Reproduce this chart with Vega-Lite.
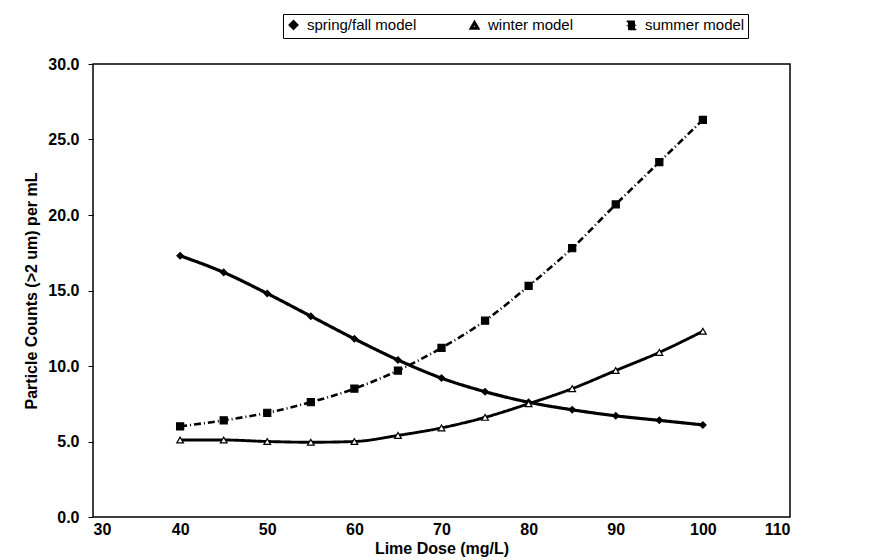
{
  "$schema": "https://vega.github.io/schema/vega-lite/v6.json",
  "width": 697,
  "height": 453,
  "autosize": {"type": "none"},
  "padding": {"left": 93, "top": 64, "right": 92, "bottom": 43},
  "background": "white",
  "config": {
    "view": {"stroke": "black", "strokeWidth": 1.5},
    "font": "Liberation Sans",
    "axis": {
      "grid": false,
      "domainColor": "black",
      "tickColor": "black",
      "labelColor": "black",
      "titleColor": "black",
      "labelFont": "Liberation Sans",
      "titleFont": "Liberation Sans",
      "labelFontWeight": "bold",
      "titleFontWeight": "bold",
      "labelFontSize": 16,
      "titleFontSize": 16
    }
  },
  "data": {
    "values": [
      {"dose": 40, "series": "spring/fall model", "count": 17.3},
      {"dose": 45, "series": "spring/fall model", "count": 16.2},
      {"dose": 50, "series": "spring/fall model", "count": 14.8},
      {"dose": 55, "series": "spring/fall model", "count": 13.3},
      {"dose": 60, "series": "spring/fall model", "count": 11.8},
      {"dose": 65, "series": "spring/fall model", "count": 10.4},
      {"dose": 70, "series": "spring/fall model", "count": 9.2},
      {"dose": 75, "series": "spring/fall model", "count": 8.3},
      {"dose": 80, "series": "spring/fall model", "count": 7.6},
      {"dose": 85, "series": "spring/fall model", "count": 7.1},
      {"dose": 90, "series": "spring/fall model", "count": 6.7},
      {"dose": 95, "series": "spring/fall model", "count": 6.4},
      {"dose": 100, "series": "spring/fall model", "count": 6.1},
      {"dose": 40, "series": "winter model", "count": 5.1},
      {"dose": 45, "series": "winter model", "count": 5.1},
      {"dose": 50, "series": "winter model", "count": 5.0},
      {"dose": 55, "series": "winter model", "count": 4.95},
      {"dose": 60, "series": "winter model", "count": 5.0},
      {"dose": 65, "series": "winter model", "count": 5.4},
      {"dose": 70, "series": "winter model", "count": 5.9},
      {"dose": 75, "series": "winter model", "count": 6.6},
      {"dose": 80, "series": "winter model", "count": 7.5},
      {"dose": 85, "series": "winter model", "count": 8.5},
      {"dose": 90, "series": "winter model", "count": 9.7},
      {"dose": 95, "series": "winter model", "count": 10.9},
      {"dose": 100, "series": "winter model", "count": 12.3},
      {"dose": 40, "series": "summer model", "count": 6.0},
      {"dose": 45, "series": "summer model", "count": 6.4},
      {"dose": 50, "series": "summer model", "count": 6.9},
      {"dose": 55, "series": "summer model", "count": 7.6},
      {"dose": 60, "series": "summer model", "count": 8.5},
      {"dose": 65, "series": "summer model", "count": 9.7},
      {"dose": 70, "series": "summer model", "count": 11.2},
      {"dose": 75, "series": "summer model", "count": 13.0},
      {"dose": 80, "series": "summer model", "count": 15.3},
      {"dose": 85, "series": "summer model", "count": 17.8},
      {"dose": 90, "series": "summer model", "count": 20.7},
      {"dose": 95, "series": "summer model", "count": 23.5},
      {"dose": 100, "series": "summer model", "count": 26.3}
    ]
  },
  "encoding": {
    "x": {
      "field": "dose", "type": "quantitative",
      "scale": {"domain": [30, 110], "nice": false, "zero": false},
      "axis": {"values": [30, 40, 50, 60, 70, 80, 90, 100, 110], "title": "Lime Dose (mg/L)", "ticks": false, "labelPadding": 4, "titlePadding": 3, "domain": false}
    },
    "y": {
      "field": "count", "type": "quantitative",
      "scale": {"domain": [0, 30], "nice": false},
      "axis": {"values": [0, 5, 10, 15, 20, 25, 30], "format": ".1f", "title": "Particle Counts (>2 um) per mL", "tickSize": 5, "labelPadding": 9, "titlePadding": 8, "domain": false}
    }
  },
  "layer": [
    {
      "mark": {"type": "line", "color": "black", "interpolate": "monotone"},
      "encoding": {
        "strokeDash": {
          "field": "series", "type": "nominal",
          "scale": {"domain": ["spring/fall model", "winter model", "summer model"], "range": [[1, 0], [1, 0], [7, 3, 1, 3]]},
          "legend": {
            "title": null, "orient": "none", "direction": "horizontal",
            "legendX": 190, "legendY": -50,
            "strokeColor": "black", "padding": 3,
            "labelFont": "Liberation Sans", "labelFontSize": 15, "labelColor": "black",
            "symbolSize": 60, "symbolStrokeColor": "black", "symbolFillColor": "black", "symbolStrokeWidth": 1.5,
            "columnPadding": 48, "labelOffset": 6
          }
        },
        "strokeWidth": {
          "field": "series", "type": "nominal",
          "scale": {"domain": ["spring/fall model", "winter model", "summer model"], "range": [3.2, 2.6, 1]},
          "legend": null
        }
      }
    },
    {
      "mark": {"type": "point", "filled": false, "stroke": "black", "strokeWidth": 1.2},
      "encoding": {
        "shape": {
          "field": "series", "type": "nominal",
          "scale": {"domain": ["spring/fall model", "winter model", "summer model"], "range": ["diamond", "triangle-up", "square"]},
          "legend": null
        },
        "fill": {
          "field": "series", "type": "nominal",
          "scale": {"domain": ["spring/fall model", "winter model", "summer model"], "range": ["black", "white", "black"]},
          "legend": null
        },
        "size": {
          "field": "series", "type": "nominal",
          "scale": {"domain": ["spring/fall model", "winter model", "summer model"], "range": [40, 50, 6]},
          "legend": null
        },
        "opacity": {"value": 1}
      }
    }
  ]
}
